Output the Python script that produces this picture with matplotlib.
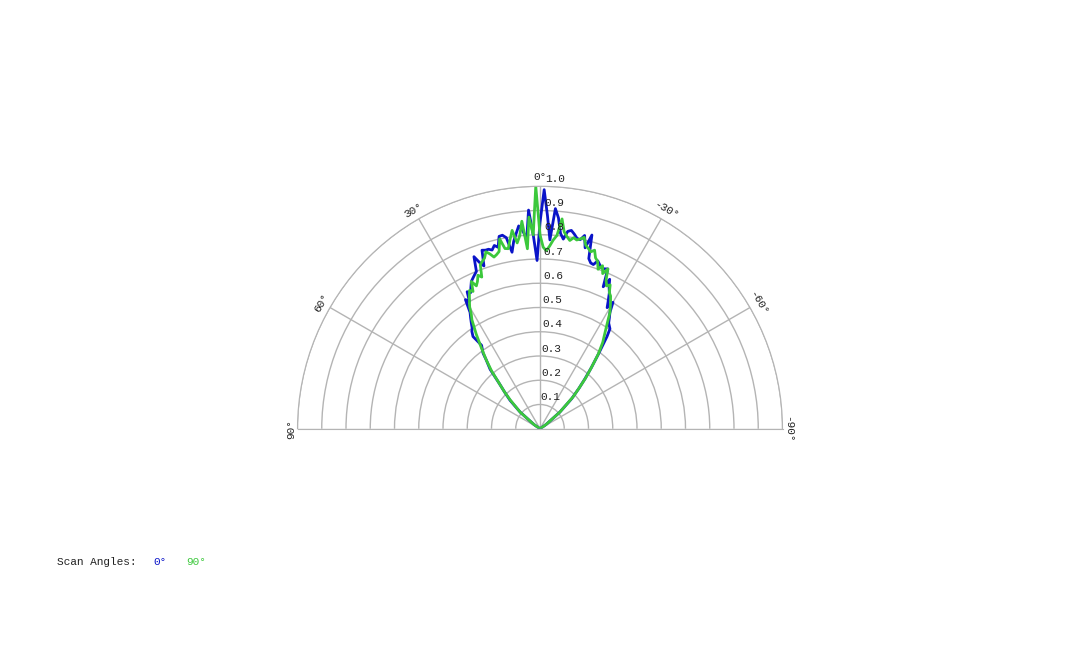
import numpy as np
import matplotlib
matplotlib.use("Agg")
import matplotlib.pyplot as plt

blue_theta = [90, 60, 55, 50, 46.5, 44, 42, 40, 38, 37, 35, 36, 35, 34, 33, 32, 31, 30, 29, 28, 27, 26,
              25, 24, 23, 22, 21, 20, 19, 18, 17, 16, 15, 14, 13, 12, 11, 10, 9, 8, 7, 6, 5, 4, 3, 2, 1, 0,
              -1, -2, -3, -4, -5, -6, -7, -8, -9, -10, -11, -12, -13, -14, -15, -16, -17, -18, -19, -20,
              -21, -22, -23, -24, -25, -26, -27, -28, -29, -30, -31, -32, -33, -35, -36, -38, -40, -42,
              -44, -46.5, -50, -55, -60, -90]
blue_r = [0, 0, 0.03, 0.107, 0.17, 0.21, 0.25, 0.32, 0.36, 0.39, 0.42, 0.47, 0.49, 0.50, 0.52, 0.54, 0.56, 0.615, 0.60, 0.64, 0.63, 0.65,
          0.67, 0.68, 0.69, 0.70, 0.76, 0.73, 0.71, 0.774, 0.77, 0.77, 0.763, 0.779, 0.768, 0.811, 0.813, 0.80, 0.737, 0.78, 0.81, 0.841, 0.82, 0.784, 0.903, 0.80, 0.694, 0.85,
          0.986, 0.88, 0.78, 0.91, 0.873, 0.81, 0.788, 0.822, 0.828, 0.815, 0.80, 0.797, 0.818, 0.769, 0.827, 0.73, 0.715, 0.712, 0.732, 0.72,
          0.71, 0.711, 0.716, 0.641, 0.68, 0.65, 0.63, 0.60, 0.571, 0.602, 0.56, 0.54, 0.52, 0.503, 0.47, 0.392, 0.33, 0.277,
          0.23, 0.18, 0.107, 0.03, 0, 0]

green_theta = [90, 60, 55, 50, 46, 44, 42, 40, 38, 36, 34, 32, 31, 30, 29, 28, 27, 26,
               25, 24, 23, 22, 21, 20, 19, 18, 17, 16, 15, 14, 13, 12, 11, 10, 9, 8, 7, 6, 5, 4, 3, 2, 1, 0,
               -1, -2, -3, -4, -5, -6, -7, -8, -9, -10, -11, -12, -13, -14, -15, -16, -17, -18, -19, -20,
               -21, -22, -23, -24, -25, -26, -27, -28, -29, -30, -31, -32, -34, -36, -38, -40, -42,
               -44, -46, -50, -55, -60, -90]
green_r = [0, 0, 0.03, 0.107, 0.17, 0.21, 0.25, 0.31, 0.36, 0.41, 0.47, 0.53, 0.55, 0.58, 0.60, 0.62, 0.64, 0.63,
           0.67, 0.645, 0.66, 0.683, 0.67, 0.72, 0.73, 0.74, 0.763, 0.75, 0.733, 0.74, 0.75, 0.80, 0.757, 0.754, 0.79, 0.826, 0.772, 0.80, 0.859, 0.744, 0.874, 0.80, 1.0, 0.80,
           0.749, 0.735, 0.754, 0.78, 0.80, 0.87, 0.818, 0.80, 0.786, 0.80, 0.793, 0.80, 0.81, 0.78, 0.77, 0.759, 0.77, 0.741, 0.73, 0.70,
           0.72, 0.69, 0.716, 0.67, 0.65, 0.66, 0.63, 0.62, 0.60, 0.58, 0.56, 0.53, 0.48, 0.44, 0.39, 0.33, 0.28,
           0.23, 0.19, 0.107, 0.03, 0, 0]

r_ticks = [0.1, 0.2, 0.3, 0.4, 0.5, 0.6, 0.7, 0.8, 0.9, 1.0]
angle_ticks = [-90, -60, -30, 0, 30, 60, 90]

mono = 'Liberation Mono'
fig = plt.figure(figsize=(10.8, 6.48), dpi=100)
ax = fig.add_axes([55/1080, 1 - 550/648, 970/1080, 485/648], projection='polar')
ax.set_theta_zero_location('N')
ax.set_theta_direction(1)
ax.set_thetamin(-90)
ax.set_thetamax(90)
ax.set_ylim(0, 1.0)
ax.plot(np.deg2rad(blue_theta), blue_r, color='#0a14c8', lw=2)
ax.plot(np.deg2rad(green_theta), green_r, color='#3cc83c', lw=2)
ax.set_yticks(r_ticks)
ax.set_yticklabels([])
ax.set_xticks(np.deg2rad(angle_ticks))
ax.set_xticklabels([])
ax.grid(True, color='#b4b4b4', lw=1)
for s in ('polar', 'start', 'end'):
    ax.spines[s].set_color('#b4b4b4')
for r in r_ticks:
    ax.text(np.deg2rad(-1.2), r + 0.01, f"{r:.1f}", fontsize=8, family=mono, ha='left',
            va='bottom', color='#222222')
for a in angle_ticks:
    rr = 1.04 if abs(a) < 90 else 1.025
    ax.text(np.deg2rad(a), rr, f"{a}°", fontsize=8, family=mono, ha='center', va='center',
            rotation=a if abs(a) < 90 else (90 if a == 90 else -90), color='#222222')
fig.text(57/1080, 1 - 562/648, "Scan Angles:", fontsize=8, family=mono, va='center', color='#222222')
fig.text(153/1080, 1 - 562/648, "0°", fontsize=8, family=mono, va='center', color='#0a14c8')
fig.text(186/1080, 1 - 562/648, "90°", fontsize=8, family=mono, va='center', color='#3cc83c')
fig.savefig('out.png', dpi=100)
